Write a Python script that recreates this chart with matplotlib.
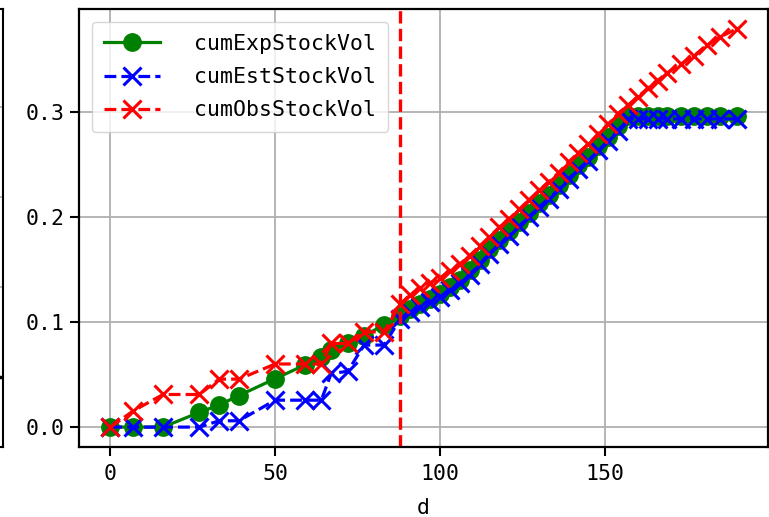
import matplotlib
matplotlib.use("Agg")
import matplotlib.pyplot as plt

days = [0, 7, 16, 27, 33, 39, 50, 59, 64, 67, 72, 77, 83, 88, 91, 94, 97, 100,
        103, 106, 109, 112, 115, 118, 121, 124, 127, 130, 133, 136, 139, 142,
        145, 148, 151, 154, 157, 160, 163, 166, 169, 173, 177, 181, 185, 190]

cum_exp = [0.0, 0.0, 0.0, 0.014, 0.021, 0.030, 0.046, 0.059, 0.067, 0.073, 0.0795,
           0.087, 0.097, 0.106, 0.112, 0.117, 0.122, 0.127, 0.133, 0.140, 0.149,
           0.159, 0.169, 0.178, 0.186, 0.195, 0.204, 0.213, 0.221, 0.230, 0.240,
           0.249, 0.257, 0.267, 0.276, 0.286, 0.296, 0.296, 0.296, 0.296, 0.296,
           0.296, 0.296, 0.296, 0.296, 0.296]

cum_est = [0.0, 0.0, 0.0, 0.0, 0.006, 0.006, 0.0256, 0.0256, 0.0256, 0.051, 0.053,
           0.078, 0.078, 0.103, 0.109, 0.114, 0.119, 0.124, 0.130, 0.137, 0.145,
           0.155, 0.165, 0.174, 0.182, 0.191, 0.200, 0.209, 0.217, 0.226, 0.236,
           0.245, 0.253, 0.263, 0.272, 0.282, 0.293, 0.293, 0.293, 0.293, 0.293,
           0.293, 0.293, 0.293, 0.293, 0.293]

cum_obs = [0.0, 0.0155, 0.031, 0.031, 0.0456, 0.0456, 0.060, 0.060, 0.060, 0.0795,
           0.0795, 0.0905, 0.0905, 0.117, 0.126, 0.132, 0.137, 0.142, 0.148, 0.155,
           0.163, 0.172, 0.181, 0.190, 0.198, 0.207, 0.216, 0.225, 0.233, 0.242,
           0.252, 0.261, 0.269, 0.279, 0.288, 0.298, 0.306, 0.314, 0.322, 0.3295,
           0.337, 0.345, 0.353, 0.363, 0.371, 0.3786]

cutoff_day = 88

plt.rcParams['font.family'] = ['DejaVu Sans Mono']
plt.rcParams['font.size'] = 15.5

fig = plt.figure(figsize=(7.69, 5.17), dpi=100)

# partial neighbouring subplot on the left edge
ax0 = fig.add_axes([-0.3, 70 / 517, 0.3 + 3 / 769, 438 / 517])
ax0.set_xlim(0, 1)
ax0.set_ylim(0, 1)
ax0.set_yticks([0.160, 0.365, 0.571, 0.776])
ax0.set_xticks([])
ax0.tick_params(axis='y', length=0, labelleft=False)
ax0.grid(True, axis='y', color='#b0b0b0', lw=1.2)
ax0.axhline(0.160, xmin=0.99, xmax=1.0, color='black', lw=2.5)
for s in ax0.spines.values():
    s.set_linewidth(1.5)

ax = fig.add_axes([79 / 769, 70 / 517, 689 / 769, 438 / 517])
ax.plot(days, cum_exp, color='green', marker='o', linestyle='-', lw=2.3,
        markersize=12.5, label='cumExpStockVol')
ax.plot(days, cum_est, color='blue', marker='x', linestyle='--', lw=2.3,
        markersize=12.5, markeredgewidth=2.2, label='cumEstStockVol')
ax.plot(days, cum_obs, color='red', marker='x', linestyle='--', lw=2.3,
        markersize=12.5, markeredgewidth=2.2, label='cumObsStockVol')
ax.axvline(cutoff_day, color='red', linestyle='--', lw=2.4)

ax.set_xticks([0, 50, 100, 150])
ax.set_yticks([0.0, 0.1, 0.2, 0.3])
ax.set_yticklabels(['0.0', '0.1', '0.2', '0.3'])
ax.set_xlabel('d', labelpad=10)
ax.grid(True, color='#b0b0b0', lw=1.3)
ax.set_axisbelow(True)
ax.tick_params(length=6.5, width=1.5)
ax.tick_params(axis='x', pad=6)
for s in ax.spines.values():
    s.set_linewidth(1.6)

ax.legend(loc='upper left', handlelength=2.6, handletextpad=1.6,
          labelspacing=0.62, borderpad=0.55, framealpha=0.8,
          bbox_to_anchor=(0.0, 1.0), borderaxespad=0.6)

fig.savefig('out.png', dpi=100)
